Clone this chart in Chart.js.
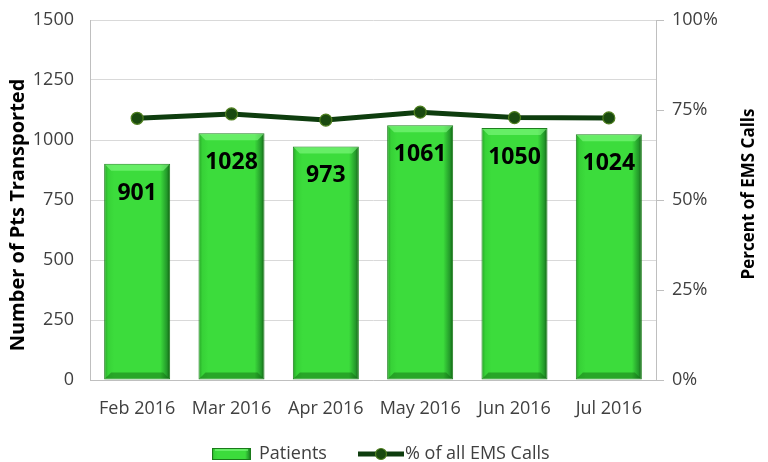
<!DOCTYPE html>
<html><head><meta charset="utf-8">
<script src="https://cdn.jsdelivr.net/npm/chart.js@4.4.1/dist/chart.umd.min.js"></script>
<style>html,body{margin:0;padding:0;background:#fff;}#wrap{width:768px;height:462px;}</style>
</head><body><div id="wrap"><canvas id="c" width="768" height="462"></canvas></div>
<script>
const categories = ['Feb 2016','Mar 2016','Apr 2016','May 2016','Jun 2016','Jul 2016'];
const patients = [901, 1028, 973, 1061, 1050, 1024];
const pctEMS = [72.7, 73.9, 72.2, 74.4, 72.9, 72.8];
const leftTicks = [0, 250, 500, 750, 1000, 1250, 1500];
const rightTicks = [0, 25, 50, 75, 100];

const FONT = "'Open Sans', 'DejaVu Sans', sans-serif";
const BAR_FRAC = 0.7;

function barGradient(ctx2d, x0, x1) {
  const g = ctx2d.createLinearGradient(x0, 0, x1, 0);
  g.addColorStop(0, '#27a527');
  g.addColorStop(0.06, '#37d237');
  g.addColorStop(0.15, '#3cdc3c');
  g.addColorStop(0.85, '#3cdc3c');
  g.addColorStop(0.95, '#23992a');
  g.addColorStop(1, '#105e10');
  return g;
}

function vTitle(ctx, text, x, y, size) {
  ctx.save();
  ctx.translate(x, y);
  ctx.rotate(-Math.PI / 2);
  ctx.font = "bold " + size + "px " + FONT;
  ctx.fillStyle = '#000';
  ctx.textAlign = 'center';
  ctx.textBaseline = 'middle';
  ctx.fillText(text, 0, 0);
  ctx.restore();
}

const decorPlugin = {
  id: 'decor',
  afterDatasetsDraw(chart) {
    const ctx = chart.ctx;
    const meta = chart.getDatasetMeta(0);
    ctx.save();
    meta.data.forEach((el, i) => {
      const w = el.width, x0 = el.x - w/2, x1 = el.x + w/2, top = el.y, bot = el.base;
      const b = 7;
      ctx.beginPath();
      ctx.moveTo(x0 + 1, top + 1); ctx.lineTo(x1 - 1, top + 1); ctx.lineTo(x1 - b, top + b); ctx.lineTo(x0 + b, top + b); ctx.closePath();
      ctx.fillStyle = 'rgba(130,250,130,0.6)'; ctx.fill();
      ctx.beginPath();
      ctx.moveTo(x0 + 1, bot - 1); ctx.lineTo(x1 - 1, bot - 1); ctx.lineTo(x1 - b, bot - b); ctx.lineTo(x0 + b, bot - b); ctx.closePath();
      ctx.fillStyle = 'rgba(15,100,15,0.45)'; ctx.fill();
    });
    ctx.fillStyle = '#000';
    ctx.font = "bold 23px " + FONT;
    ctx.textAlign = 'center';
    ctx.textBaseline = 'alphabetic';
    meta.data.forEach((el, i) => {
      ctx.fillText(String(patients[i]), el.x, el.y + 36);
    });
    ctx.restore();
  },
  afterDraw(chart) {
    const ctx = chart.ctx;
    vTitle(ctx, 'Number of Pts Transported', 18, 215, 20);
    vTitle(ctx, 'Percent of EMS Calls', 749, 194, 17);

    ctx.save();
    const y = 454;
    ctx.font = "18px " + FONT;
    ctx.textBaseline = 'middle';
    ctx.textAlign = 'left';
    const ix0 = 212, ix1 = 251;
    ctx.fillStyle = barGradient(ctx, ix0, ix1);
    ctx.fillRect(ix0, y - 6, ix1 - ix0, 12);
    ctx.fillStyle = 'rgba(130,250,130,0.6)';
    ctx.fillRect(ix0 + 3, y - 6, ix1 - ix0 - 6, 3);
    ctx.strokeStyle = '#1a7a1a'; ctx.lineWidth = 1;
    ctx.strokeRect(ix0 + 0.5, y - 5.5, ix1 - ix0 - 1, 11);
    ctx.fillStyle = '#404040';
    ctx.fillText('Patients', 259, y);
    ctx.strokeStyle = '#0e3d0e'; ctx.lineWidth = 5;
    ctx.beginPath(); ctx.moveTo(358, y); ctx.lineTo(404, y); ctx.stroke();
    ctx.beginPath(); ctx.arc(381, y, 5.5, 0, Math.PI*2);
    ctx.fillStyle = '#1a4a10'; ctx.fill();
    ctx.strokeStyle = '#4f7f1f'; ctx.lineWidth = 1.2; ctx.stroke();
    ctx.fillStyle = '#404040';
    ctx.fillText('% of all EMS Calls', 405, y);
    ctx.restore();
  }
};

function fixV(s, w) { s.width = w; s.paddingTop = 0; s.paddingBottom = 0; }

new Chart(document.getElementById('c'), {
  data: {
    labels: categories,
    datasets: [
      {
        type: 'bar', label: 'Patients', data: patients, yAxisID: 'y', order: 2,
        barPercentage: BAR_FRAC, categoryPercentage: 1,
        borderColor: '#1f801f', borderWidth: 1, borderSkipped: false,
        backgroundColor: (c) => {
          const chart = c.chart;
          const xs = chart.scales.x;
          if (!xs || !chart.chartArea || c.dataIndex === undefined) return '#3cdc3c';
          const cx = xs.getPixelForValue(c.dataIndex);
          const w = xs.width / categories.length * BAR_FRAC;
          return barGradient(chart.ctx, cx - w/2, cx + w/2);
        }
      },
      {
        type: 'line', label: '% of all EMS Calls', data: pctEMS, yAxisID: 'y1', order: 1,
        borderColor: '#0e3d0e', borderWidth: 5, tension: 0,
        pointRadius: 6, pointBackgroundColor: '#1a4a10', pointBorderColor: '#4f7f1f', pointBorderWidth: 1.2
      }
    ]
  },
  options: {
    responsive: false, animation: false, devicePixelRatio: 1,
    layout: { padding: { top: 20, left: 0, right: 0, bottom: 0 } },
    plugins: { legend: { display: false }, tooltip: { enabled: false } },
    scales: {
      x: {
        grid: { display: false, drawTicks: false },
        border: { display: true, color: '#bfbfbf', width: 1 },
        ticks: { color: '#404040', font: { family: FONT, size: 18 }, padding: 18, maxRotation: 0 },
        afterFit: (s) => { s.height = 82; s.paddingLeft = 0; s.paddingRight = 0; }
      },
      y: {
        position: 'left', min: 0, max: 1500,
        afterBuildTicks: (s) => { s.ticks = leftTicks.map(v => ({ value: v })); },
        grid: { color: '#d9d9d9', drawTicks: false },
        border: { display: true, color: '#bfbfbf' },
        ticks: { color: '#404040', font: { family: FONT, size: 18 }, padding: 16, callback: (v) => String(v) },
        afterFit: (s) => fixV(s, 90)
      },
      y1: {
        position: 'right', min: 0, max: 100,
        afterBuildTicks: (s) => { s.ticks = rightTicks.map(v => ({ value: v })); },
        grid: { drawOnChartArea: false, drawTicks: true, tickLength: 8, color: '#bfbfbf' },
        border: { display: true, color: '#bfbfbf' },
        ticks: { color: '#404040', font: { family: FONT, size: 18 }, padding: 8, callback: (v) => v + '%' },
        afterFit: (s) => fixV(s, 112)
      }
    }
  },
  plugins: [decorPlugin]
});
</script>
</body></html>
